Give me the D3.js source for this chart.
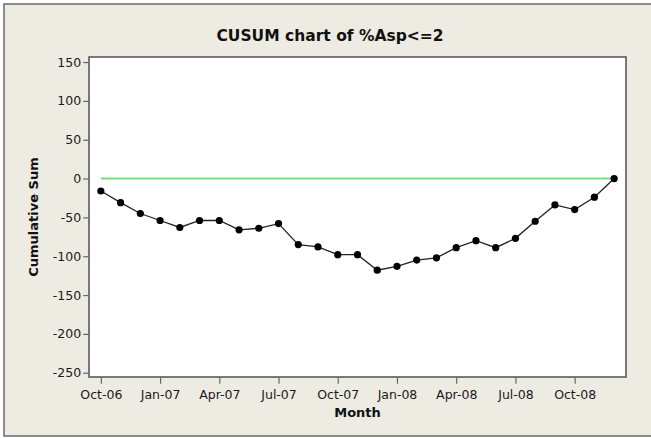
<!DOCTYPE html>
<html>
<head>
<meta charset="utf-8">
<script src="https://cdn.jsdelivr.net/npm/d3@7"></script>
<style>
  body { margin: 0; background: #fff; }
  svg { display: block; }
</style>
</head>
<body>
<svg id="chart" width="651" height="438"></svg>
<script>
// monthly cumulative sums, Oct-06 .. Dec-08
var months = ["Oct-06","Nov-06","Dec-06","Jan-07","Feb-07","Mar-07","Apr-07","May-07","Jun-07",
  "Jul-07","Aug-07","Sep-07","Oct-07","Nov-07","Dec-07","Jan-08","Feb-08","Mar-08",
  "Apr-08","May-08","Jun-08","Jul-08","Aug-08","Sep-08","Oct-08","Nov-08","Dec-08"];
var cusum = [-16, -31, -45, -54, -63, -54, -54, -66, -64,
  -58, -85, -88, -98, -98, -118, -113, -105, -102,
  -89, -80, -89, -77, -55, -34, -40, -24, 0];
var tickLabels = ["Oct-06","Jan-07","Apr-07","Jul-07","Oct-07","Jan-08","Apr-08","Jul-08","Oct-08"];
var yTicks = [150, 100, 50, 0, -50, -100, -150, -200, -250];
var target = 0;

var svg = d3.select("#chart");
var plot = { left: 89, top: 57, right: 626, bottom: 377 };
var font = "DejaVu Sans, sans-serif";

// outer panel
svg.append("rect").attr("x", 4).attr("y", 4).attr("width", 650).attr("height", 432)
  .attr("fill", "#eeebe3").attr("stroke", "#6b6b6b").attr("stroke-width", 1.5);

var x = d3.scaleLinear().domain([-0.6, months.length - 0.4]).range([plot.left, plot.right]);
var y = d3.scaleLinear().domain([-255.5, 156.5]).range([plot.bottom, plot.top]);

svg.append("rect").attr("x", plot.left).attr("y", plot.top)
  .attr("width", plot.right - plot.left).attr("height", plot.bottom - plot.top)
  .attr("fill", "#fff").attr("stroke", "#5a5a5a").attr("stroke-width", 1.6);

// axes
var xAxis = d3.axisBottom(x)
  .tickValues(tickLabels.map(function (t) { return months.indexOf(t); }))
  .tickFormat(function (d) { return months[d]; })
  .tickSize(6).tickSizeOuter(0);
var gx = svg.append("g").attr("transform", "translate(0," + (plot.bottom + 0.8) + ")").call(xAxis);
gx.select(".domain").remove();
gx.selectAll("line").attr("stroke", "#666").attr("stroke-width", 1.2);
gx.selectAll("text").attr("font-family", font).attr("font-size", 12.5).attr("fill", "#1a1a1a").attr("dy", "0.95em");

var yAxis = d3.axisLeft(y).tickValues(yTicks).tickSize(5).tickSizeOuter(0)
  .tickFormat(function (d) { return String(d); });
var gy = svg.append("g").attr("transform", "translate(" + (plot.left - 0.8) + ",0)").call(yAxis);
gy.select(".domain").remove();
gy.selectAll("line").attr("stroke", "#666").attr("stroke-width", 1.2);
gy.selectAll("text").attr("font-family", font).attr("font-size", 12.5).attr("fill", "#1a1a1a").attr("x", -7);

// center line
svg.append("line")
  .attr("x1", x(0)).attr("x2", x(months.length - 1))
  .attr("y1", y(target)).attr("y2", y(target))
  .attr("stroke", "#78e078").attr("stroke-width", 2);

// series
var line = d3.line().x(function (d, i) { return x(i); }).y(function (d) { return y(d); });
svg.append("path").datum(cusum).attr("d", line)
  .attr("fill", "none").attr("stroke", "#222").attr("stroke-width", 1.3);
svg.selectAll("circle.pt").data(cusum).enter().append("circle")
  .attr("class", "pt")
  .attr("cx", function (d, i) { return x(i); })
  .attr("cy", function (d) { return y(d); })
  .attr("r", 3.6).attr("fill", "#000");

// titles
svg.append("text").attr("x", 330).attr("y", 41).attr("text-anchor", "middle")
  .attr("font-family", font).attr("font-weight", "bold").attr("font-size", 15.5).attr("fill", "#111")
  .text("CUSUM chart of %Asp<=2");
svg.append("text").attr("x", (plot.left + plot.right) / 2).attr("y", 417).attr("text-anchor", "middle")
  .attr("font-family", font).attr("font-weight", "bold").attr("font-size", 13).attr("fill", "#111")
  .text("Month");
svg.append("text").attr("transform", "translate(38," + ((plot.top + plot.bottom) / 2) + ") rotate(-90)")
  .attr("text-anchor", "middle")
  .attr("font-family", font).attr("font-weight", "bold").attr("font-size", 13).attr("fill", "#111")
  .text("Cumulative Sum");
</script>
</body>
</html>
